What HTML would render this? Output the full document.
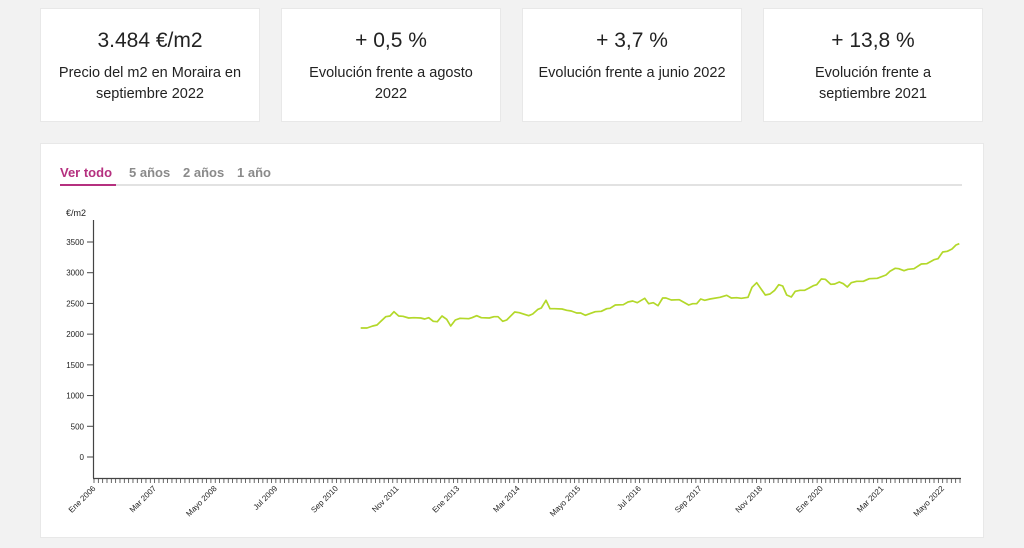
<!DOCTYPE html>
<html><head><meta charset="utf-8"><style>
body{margin:0;width:1024px;height:548px;background:#f2f2f2;font-family:"Liberation Sans","DejaVu Sans",sans-serif;position:relative;overflow:hidden}
.card{position:absolute;top:8px;width:220px;height:114px;background:#fff;border:1px solid #e8e8e8;box-sizing:border-box;text-align:center;color:#222}
.card .v{font-size:21px;margin-top:20px}
.card .t{font-size:14.5px;line-height:21px;margin-top:10px;padding:0 22px}
.chart{position:absolute;left:40px;top:143px;width:944px;height:395px;background:#fff;border:1px solid #e8e8e8;box-sizing:border-box}
</style></head><body>
<div class="card" style="left:40px"><div class="v">3.484 €/m2</div><div class="t" style="padding:0 12px">Precio del m2 en Moraira en septiembre 2022</div></div>
<div class="card" style="left:281px"><div class="v">+ 0,5 %</div><div class="t">Evolución frente a agosto 2022</div></div>
<div class="card" style="left:522px"><div class="v">+ 3,7 %</div><div class="t" style="padding:0 8px">Evolución frente a junio 2022</div></div>
<div class="card" style="left:763px"><div class="v">+ 13,8 %</div><div class="t">Evolución frente a septiembre 2021</div></div>
<div class="chart"></div>
<svg width="1024" height="548" style="position:absolute;left:0;top:0" font-family="Liberation Sans, sans-serif">
<g font-size="13" font-weight="bold">
<text x="60" y="177" fill="#b5307f">Ver todo</text>
<text x="129" y="177" fill="#8a8a8a">5 años</text>
<text x="183" y="177" fill="#8a8a8a">2 años</text>
<text x="237" y="177" fill="#8a8a8a">1 año</text>
</g>
<rect x="60" y="184" width="902" height="2" fill="#e2e2e2"/>
<rect x="60" y="184" width="56" height="2" fill="#b5307f"/>
<text x="66" y="216" font-size="9" fill="#222">€/m2</text>
<g stroke="#444" stroke-width="1.2" fill="none">
<line x1="93.5" y1="220" x2="93.5" y2="478"/>
<line x1="93" y1="478.5" x2="961" y2="478.5"/>
</g>
<g font-size="8" fill="#222" text-anchor="end" id="yl"></g>
<g id="yt" stroke="#444" stroke-width="1"></g>
<g id="xt" stroke="#444" stroke-width="0.8"></g>
<g id="xl" font-size="8" fill="#222" text-anchor="end"></g>
<polyline fill="none" stroke="#b3d82a" stroke-width="1.7" stroke-linejoin="round" points="360.7,328 367,328 372.7,326 377,325 385.7,316.7 390,316 394,311.7 398.7,316 403,316.3 408.7,318 414,317.7 420.7,318 424.7,319 428.7,317.7 433.3,321.3 437.3,321.7 442,316 446.7,319.3 450.7,326 455.3,320 460,318.3 468.7,318.7 472,317.7 476.7,315.7 481.3,317.7 489.3,318 494,316.7 498,316.7 502.7,321.3 506.7,320 514.7,312 519.3,312.7 528.7,315.7 532.7,314 538,309.3 541.3,308 546,300.3 550,308.7 554.7,308.7 562,309 566.7,310.3 571.3,311 576.7,313 580.7,313 585.3,315.3 590.7,313.3 595.3,311.7 601.3,311.3 606.7,308.7 610,308.3 615.3,305 623.3,304.7 628,302 632.7,301 637.3,302.7 644.7,298.3 648.7,303.7 653.3,302.7 658,305.7 662.7,298 666,298 671.3,300 679.3,299.7 688.7,305 692.7,303.7 696.7,303.7 700.7,299 704.7,300.3 710,299 720,297.3 726.7,295.3 731.3,298 736.7,297.7 741.3,298.3 748,297.3 752,287.3 756.7,282.7 765.3,295 770,294 774.7,290.3 778.7,284.7 782.7,286 786.7,295 791.3,297 795.3,291.3 800,290.3 804.7,290.3 808.7,288.3 813.3,285.7 816.7,284.7 821.3,279 825.3,279.3 830.7,284.3 834.7,284 839.3,282 843.3,283.7 847.3,287 851.3,282.7 856.7,281.3 863.3,281.3 869.3,278.7 877.3,278.3 886,275 890,271.3 895.3,268.3 898.7,268.7 904,270.7 908,269.3 914,268.7 921.3,264 926.7,263.7 934,259.7 938,258.7 942.7,252 947.3,251.3 952,249 956,245 959.3,243.7"/>
</svg>
<script>
var ns="http://www.w3.org/2000/svg";
function el(p,t,a,txt){var e=document.createElementNS(ns,t);for(var k in a)e.setAttribute(k,a[k]);if(txt)e.textContent=txt;document.getElementById(p).appendChild(e);}
for(var v=0;v<=3500;v+=500){var y=457-v*0.06143;el("yl","text",{x:84,y:y+3},String(v));el("yt","line",{x1:87,x2:93,y1:y,y2:y});}
for(var m=0;m<=200;m++){var x=94+m*4.33;el("xt","line",{x1:x,x2:x,y1:479,y2:483});}
var L=["Ene 2006","Mar 2007","Mayo 2008","Jul 2009","Sep 2010","Nov 2011","Ene 2013","Mar 2014","Mayo 2015","Jul 2016","Sep 2017","Nov 2018","Ene 2020","Mar 2021","Mayo 2022"];
for(var i=0;i<L.length;i++){var x=94+i*14*4.33+2;el("xl","text",{x:x,y:489,transform:"rotate(-45 "+x+" 489)"},L[i]);}
</script>
</body></html>
